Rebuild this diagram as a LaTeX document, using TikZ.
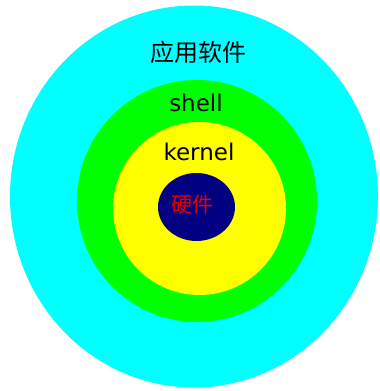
\documentclass[tikz,border=0pt]{standalone}
\usepackage{fontspec}
\setmainfont{DejaVu Sans}
\newfontfamily\cjk{Noto Sans CJK SC}
\usepackage{xcolor}
\definecolor{appcyan}{RGB}{0,255,255}
\definecolor{shellgreen}{RGB}{0,255,0}
\definecolor{kernelyellow}{RGB}{255,255,0}
\definecolor{hwnavy}{RGB}{0,0,128}
\definecolor{hwred}{RGB}{230,0,0}
\usepackage{tikz}
\usetikzlibrary{positioning, shapes.geometric}

\begin{document}
\begin{tikzpicture}[
  x=1pt, y=1pt,
  ring/.style={
    ellipse, inner sep=0pt, draw=none,
  },
  lbl/.style={
    inner sep=0pt, font=\fontsize{23}{23}\selectfont,
  },
  cjklbl/.style={
    inner sep=0pt, font=\cjk\fontsize{23}{23}\selectfont,
  }
]
\useasboundingbox[fill=white] (0,0) rectangle (380,391);
\node[ring, fill=appcyan,      minimum width=368pt, minimum height=382pt] (app)    at (194,194.5) {};
\node[ring, fill=shellgreen,   minimum width=240pt, minimum height=242pt] (shell)  at (197,190)   {};
\node[ring, fill=kernelyellow, minimum width=173pt, minimum height=173pt] (kernel) at (199.5,182.5) {};
\node[ring, fill=hwnavy,       minimum width=77pt,  minimum height=68pt]  (hw)     at (196.5,184) {};
\node[cjklbl, font=\cjk\fontsize{24}{24}\selectfont] (applbl) at (198,339) {应用软件};
\node[lbl] (shelllbl)  at (196,288) {shell};
\node[lbl] (kernellbl) at (199,239) {kernel};
\node[cjklbl, text=hwred, font=\cjk\fontsize{21}{21}\selectfont] (hwlbl) at (192,186) {硬件};
\end{tikzpicture}
\end{document}
